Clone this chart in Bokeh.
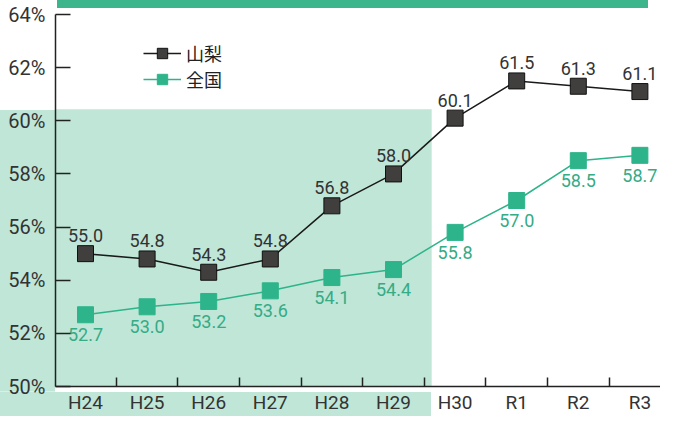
from bokeh.plotting import figure
from bokeh.models import (Range1d, FixedTicker, PrintfTickFormatter, BoxAnnotation,
                          Legend, LegendItem)
from bokeh.core.properties import value
from bokeh.embed import file_html
from bokeh.resources import INLINE

# ---- data ----
categories = ["H24", "H25", "H26", "H27", "H28", "H29", "H30", "R1", "R2", "R3"]
yamanashi = [55.0, 54.8, 54.3, 54.8, 56.8, 58.0, 60.1, 61.5, 61.3, 61.1]
national = [52.7, 53.0, 53.2, 53.6, 54.1, 54.4, 55.8, 57.0, 58.5, 58.7]
y_ticks = [50, 52, 54, 56, 58, 60, 62, 64]
series_names = ["山梨", "全国"]

xs = list(range(len(categories)))

# ---- layout / style ----
FONT = "Roboto"
DARK = "#403f3d"
GREEN = "#2db48a"
GREEN_TXT = "#35ab86"
SHADE = "#bfe6d7"
BANNER = "#3db58c"

W, H = 660, 416
LEFT, TOP, BOTTOM = 55, 14, 24
STEP = 61.6
X0 = -30 / STEP
X1 = X0 + (W - LEFT) / STEP
Y0, Y1 = 50, 64
SHADE_RIGHT, SHADE_TOP = 5.62, 60.43

frame_h = H - TOP - BOTTOM
shade_px_right = LEFT + (SHADE_RIGHT - X0) * STEP
shade_px_top = TOP + (Y1 - SHADE_TOP) * frame_h / (Y1 - Y0)
frame_px_bottom = H - BOTTOM

p = figure(width=W, height=H, output_backend="svg", toolbar_location=None,
           x_range=Range1d(X0, X1), y_range=Range1d(Y0, Y1),
           min_border_left=LEFT, min_border_top=TOP, min_border_right=0,
           min_border_bottom=BOTTOM)
p.grid.visible = False
p.outline_line_color = None
p.background_fill_color = "white"
p.border_fill_color = None

# shaded area behind the axis labels (outside the frame) + top banner strip
g = f"linear-gradient({SHADE},{SHADE})"
b = f"linear-gradient({BANNER},{BANNER})"
p.styles = {"background": (
    f"{b} 57px 0px / 591px 8px no-repeat, "
    f"{g} 0px {shade_px_top:.1f}px / {LEFT}px {frame_px_bottom - shade_px_top:.1f}px no-repeat, "
    f"{g} 0px {frame_px_bottom}px / {shade_px_right:.1f}px {BOTTOM}px no-repeat, "
    "white")}

# shaded area inside the frame (H24-H29)
p.add_layout(BoxAnnotation(right=SHADE_RIGHT, top=SHADE_TOP,
                           fill_color=SHADE, fill_alpha=1.0, line_color=None,
                           level="underlay"))

# x axis
xa = p.xaxis[0]
xa.ticker = FixedTicker(ticks=xs, minor_ticks=[i + 0.5 for i in xs])
xa.major_label_overrides = {i: c for i, c in enumerate(categories)}
xa.major_tick_in = 0
xa.major_tick_out = 0
xa.minor_tick_in = 9
xa.minor_tick_out = 0
xa.minor_tick_line_color = "#222222"
xa.minor_tick_line_width = 1.5
xa.axis_line_color = "#222222"
xa.axis_line_width = 1.5
xa.major_label_text_font = FONT
xa.major_label_text_font_size = "19px"
xa.major_label_text_color = "#333333"
xa.major_label_standoff = 4

# y axis
ya = p.yaxis[0]
ya.ticker = FixedTicker(ticks=y_ticks, minor_ticks=[])
ya.formatter = PrintfTickFormatter(format="%d%%")
ya.major_tick_in = 15
ya.major_tick_out = 0
ya.major_tick_line_color = "#222222"
ya.major_tick_line_width = 1.5
ya.axis_line_color = "#222222"
ya.axis_line_width = 1.5
ya.major_label_text_font = FONT
ya.major_label_text_font_size = "20px"
ya.major_label_text_color = "#333333"
ya.major_label_standoff = 10

# series
l1 = p.line(xs, yamanashi, line_color="#1a1a1a", line_width=1.5)
s1 = p.scatter(xs, yamanashi, marker="square", size=16, fill_color=DARK,
               line_color="#111111", line_width=1)
l2 = p.line(xs, national, line_color=GREEN, line_width=1.5)
s2 = p.scatter(xs, national, marker="square", size=16, fill_color=GREEN,
               line_color=GREEN, line_width=1)

p.text(xs, yamanashi, text=[f"{v:.1f}" for v in yamanashi],
       text_font=value(FONT), text_font_size="18px", text_color="#333333",
       text_align="center", text_baseline="alphabetic", y_offset=-18)
p.text(xs, national, text=[f"{v:.1f}" for v in national],
       text_font=value(FONT), text_font_size="18px", text_color=GREEN_TXT,
       text_align="center", text_baseline="alphabetic", y_offset=20)

legend = Legend(items=[LegendItem(label=series_names[0], renderers=[l1, s1]),
                       LegendItem(label=series_names[1], renderers=[l2, s2])],
                location=(88, 294), padding=0, margin=0, spacing=0,
                glyph_width=38, glyph_height=26, label_standoff=5,
                label_text_font="Noto Sans CJK JP",
                label_text_font_size="18px", label_text_color="#222222",
                border_line_color=None, background_fill_alpha=0)
p.add_layout(legend, "center")

open("out.html", "w").write(file_html(p, INLINE))
